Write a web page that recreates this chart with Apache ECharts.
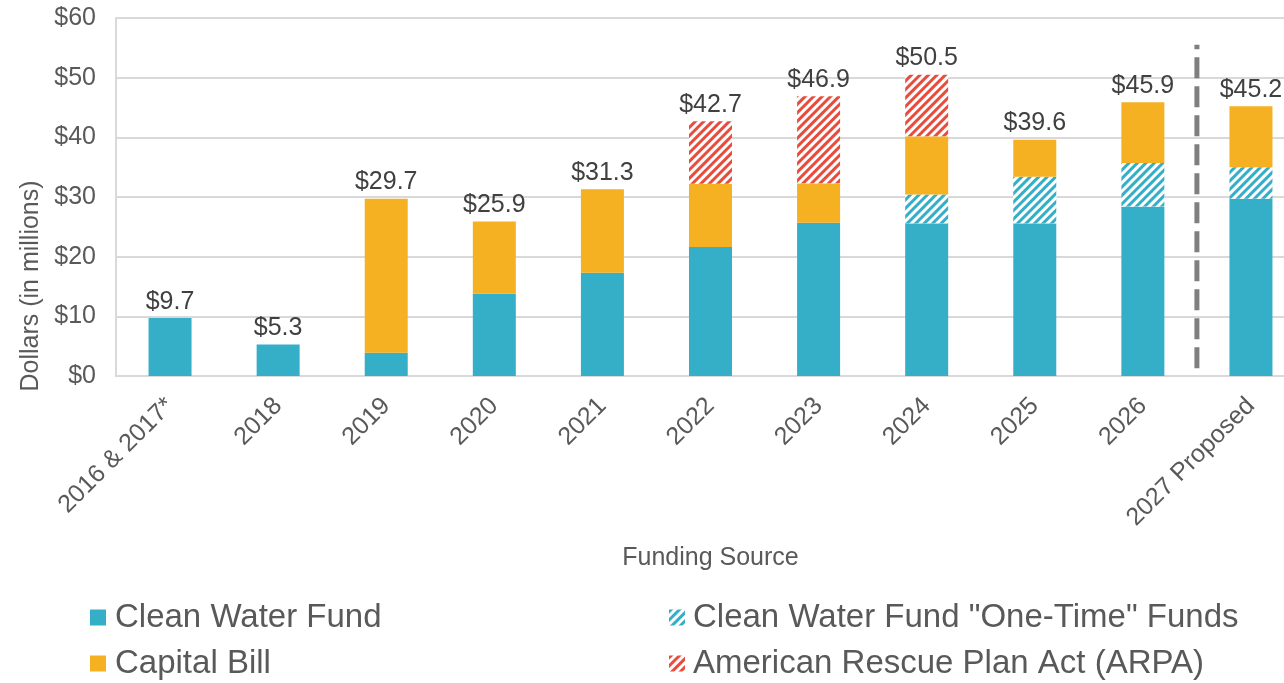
<!DOCTYPE html>
<html>
<head>
<meta charset="utf-8">
<script src="https://cdn.jsdelivr.net/npm/echarts@6/dist/echarts.min.js"></script>
<style>
  html, body { margin: 0; padding: 0; background: #fff; overflow: hidden; }
  #chart { width: 1305px; height: 683px; }
</style>
</head>
<body>
<div id="chart"></div>
<script>
var years = ['2016 & 2017*', '2018', '2019', '2020', '2021', '2022', '2023', '2024', '2025', '2026', '2027 Proposed'];
var cleanWater = [9.7, 5.3, 3.9, 13.8, 17.3, 21.6, 25.7, 25.6, 25.6, 28.4, 29.7];
var oneTime = [0, 0, 0, 0, 0, 0, 0, 4.8, 7.8, 7.3, 5.3];
var capitalBill = [0, 0, 25.8, 12.1, 14.0, 10.6, 6.6, 9.8, 6.2, 10.2, 10.2];
var arpa = [0, 0, 0, 0, 0, 10.5, 14.6, 10.3, 0, 0, 0];
var totals = [9.7, 5.3, 29.7, 25.9, 31.3, 42.7, 46.9, 50.5, 39.6, 45.9, 45.2];
var yTicks = [0, 10, 20, 30, 40, 50, 60];
// dashed divider between 2026 and 2027 Proposed
var dividerX = 9.5;
var dividerY = [1.3, 55.5];

var font = 'Liberation Sans, Arial, sans-serif';
var teal = '#35AEC8';
var orange = '#F5B122';
var red = '#E84C3D';

function hatch(c) {
    return {
        color: c,
        backgroundColor: '#ffffff',
        dashArrayX: [1, 0],
        dashArrayY: [2.6, 2.4],
        rotation: -Math.PI / 4
    };
}

var chartDom = document.getElementById('chart');
var myChart = echarts.init(chartDom, null, { renderer: 'canvas' });

var legendText = { fontSize: 33, color: '#595959' };

var option = {
    animation: false,
    textStyle: { fontFamily: font },
    grid: { left: 116, top: 18, right: 0, bottom: 307 },
    legend: [{
        orient: 'vertical',
        left: 85,
        top: 596,
        height: 100,
        itemWidth: 16,
        itemHeight: 16,
        itemGap: 13,
        icon: 'rect',
        data: ['Clean Water Fund', 'Capital Bill'],
        textStyle: Object.assign({ padding: [0, 0, 0, 4] }, legendText)
    }, {
        orient: 'vertical',
        left: 664,
        top: 596,
        height: 100,
        itemWidth: 16,
        itemHeight: 16,
        itemGap: 13,
        icon: 'rect',
        data: ['Clean Water Fund "One-Time" Funds', 'American Rescue Plan Act (ARPA)'],
        textStyle: Object.assign({ padding: [0, 0, 0, 3] }, legendText)
    }],
    xAxis: [{
        type: 'category',
        data: years,
        name: 'Funding Source',
        nameLocation: 'middle',
        nameGap: 170,
        nameTextStyle: { fontSize: 25, color: '#595959' },
        axisLine: { lineStyle: { color: '#d9d9d9', width: 2 } },
        axisTick: { show: false },
        axisLabel: { interval: 0, rotate: 45, fontSize: 25, color: '#595959', margin: 26 }
    }, {
        type: 'value',
        min: -0.5,
        max: 10.5,
        show: false
    }],
    yAxis: {
        type: 'value',
        min: yTicks[0],
        max: yTicks[yTicks.length - 1],
        interval: 10,
        name: 'Dollars (in millions)',
        nameLocation: 'middle',
        nameGap: 72,
        nameTextStyle: { fontSize: 25, color: '#595959', padding: [0, 178, 0, 0] },
        axisLine: { show: true, onZero: false, lineStyle: { color: '#d9d9d9', width: 2 } },
        axisTick: { show: false },
        splitLine: { lineStyle: { color: '#d9d9d9', width: 2 } },
        axisLabel: { fontSize: 25, color: '#595959', margin: 20, formatter: '${value}' }
    },
    series: [{
        name: 'Clean Water Fund',
        type: 'bar',
        stack: 'funds',
        barWidth: 43,
        data: cleanWater,
        itemStyle: { color: teal }
    }, {
        name: 'Clean Water Fund "One-Time" Funds',
        type: 'bar',
        stack: 'funds',
        barWidth: 43,
        data: oneTime,
        itemStyle: { color: '#ffffff', decal: hatch(teal) }
    }, {
        name: 'Capital Bill',
        type: 'bar',
        stack: 'funds',
        barWidth: 43,
        data: capitalBill,
        itemStyle: { color: orange }
    }, {
        name: 'American Rescue Plan Act (ARPA)',
        type: 'bar',
        stack: 'funds',
        barWidth: 43,
        data: arpa,
        itemStyle: { color: '#ffffff', decal: hatch(red) }
    }, {
        name: 'Total',
        type: 'bar',
        barWidth: 43,
        barGap: '-100%',
        data: totals,
        itemStyle: { color: 'rgba(0,0,0,0)' },
        z: 0,
        label: {
            show: true,
            position: 'top',
            distance: 4,
            fontSize: 25,
            color: '#404040',
            formatter: function (p) { return '$' + p.value.toFixed(1); }
        }
    }, {
        name: 'divider',
        type: 'line',
        xAxisIndex: 1,
        data: [[dividerX, dividerY[0]], [dividerX, dividerY[1]]],
        symbol: 'none',
        lineStyle: { color: '#7f7f7f', width: 5, type: [21, 8] },
        z: 1
    }]
};

myChart.setOption(option);
</script>
</body>
</html>
